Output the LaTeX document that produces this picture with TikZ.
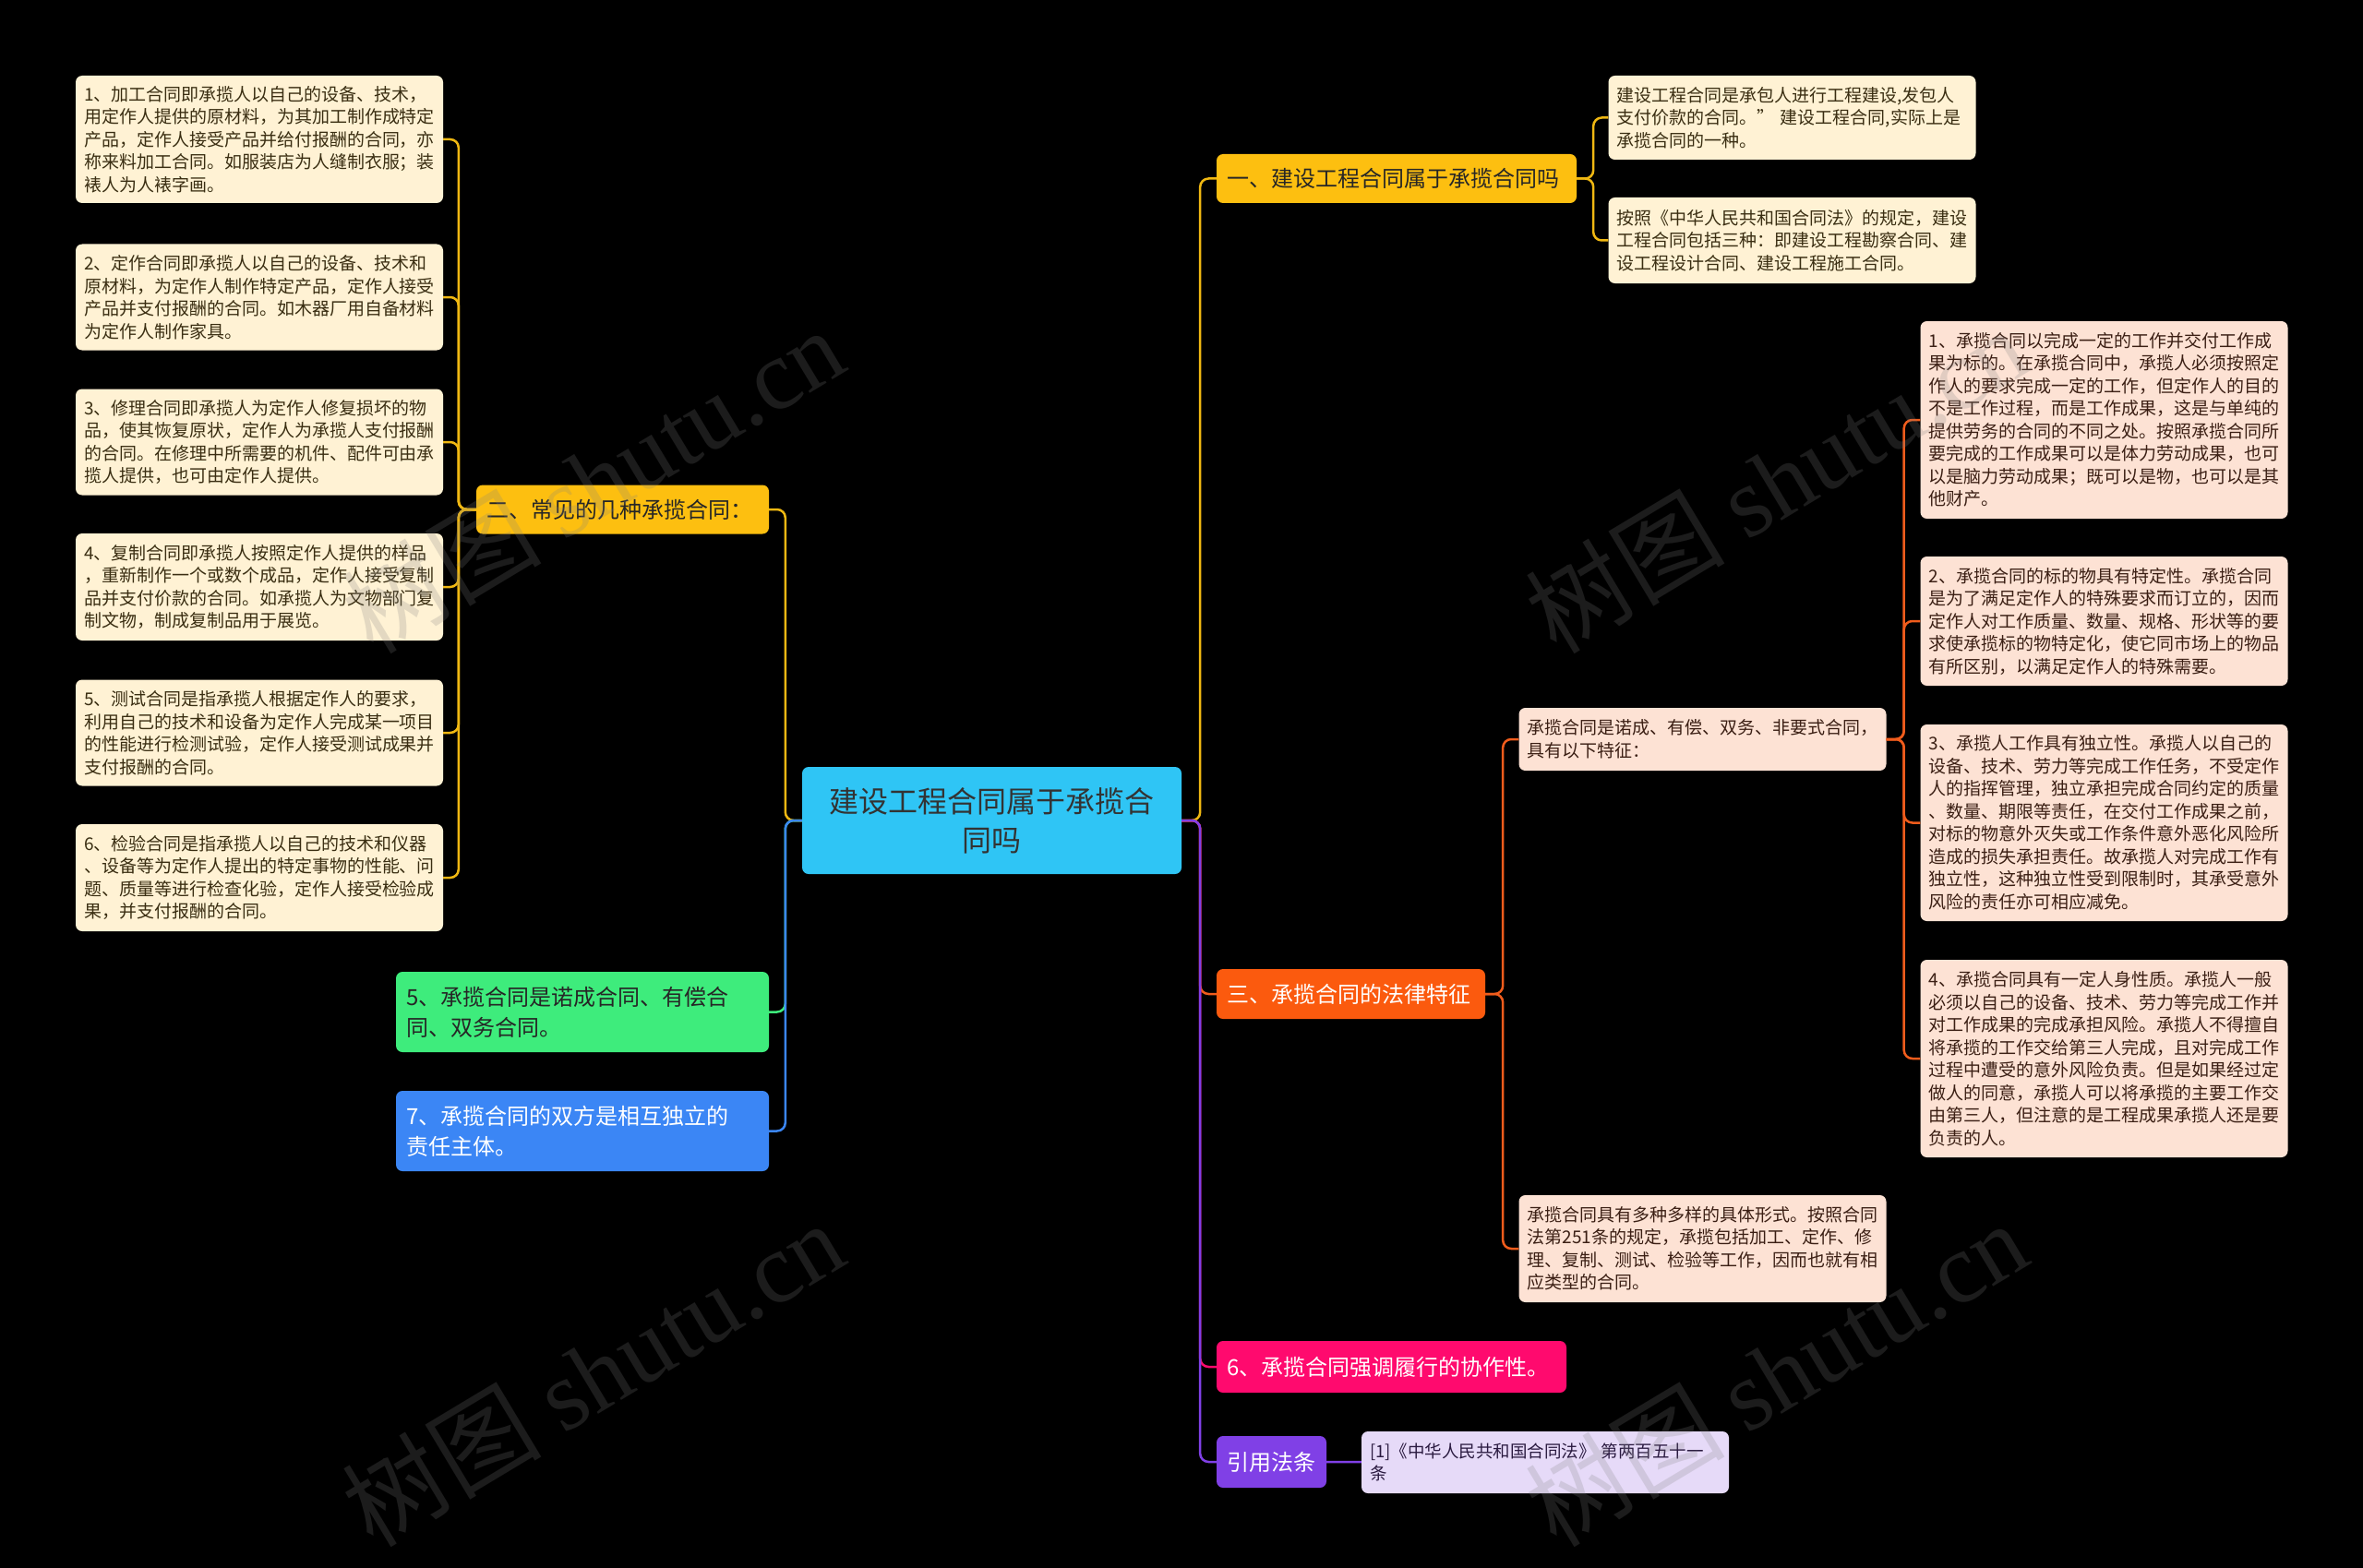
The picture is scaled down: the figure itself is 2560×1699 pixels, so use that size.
\documentclass[tikz,border=0pt]{standalone}
\usepackage{fontspec}
\setmainfont{Noto Sans CJK SC}
\newfontfamily\wmfont{Liberation Serif}
\usetikzlibrary{positioning}

\definecolor{rootc}{HTML}{2FC5F5}
\definecolor{yelc}{HTML}{FDBF10}
\definecolor{yline}{HTML}{F0B812}
\definecolor{creamc}{HTML}{FFF2D4}
\definecolor{creamt}{HTML}{3A2E12}
\definecolor{greenc}{HTML}{3EEC7C}
\definecolor{bluec}{HTML}{3B86F5}
\definecolor{orangec}{HTML}{FB5A0E}
\definecolor{oline}{HTML}{F05C1C}
\definecolor{peachc}{HTML}{FDE2D4}
\definecolor{peacht}{HTML}{3B1F14}
\definecolor{pinkc}{HTML}{FF0A6E}
\definecolor{purpc}{HTML}{8040E6}
\definecolor{lavc}{HTML}{E6DAF8}
\definecolor{lavt}{HTML}{2A1A40}

\begin{document}
\begin{tikzpicture}[
    x=1pt, y=-1pt,
    box/.style={rounded corners=7pt, inner xsep=11pt, inner ysep=0pt, align=left},
    leafy/.style={box, inner xsep=9pt, fill=creamc, text=creamt, text width=380pt,
      font=\fontsize{19}{24.5}\selectfont},
    leafo/.style={box, inner xsep=9pt, fill=peachc, text=peacht, text width=380pt,
      font=\fontsize{19}{24.5}\selectfont},
    topic/.style={box, font=\fontsize{24}{33}\selectfont, minimum height=#1},
    ln/.style={line width=2.5pt, rounded corners=9pt},
    wm/.style={rotate=31, text=gray, opacity=0.22, font=\fontsize{108}{118}\selectfont}
  ]
  \fill[black] (0,0) rectangle (2560,1699);
  \useasboundingbox (0,0) rectangle (2560,1699);

  % centre
  \node[box, fill=rootc, text=black!80, text width=389pt, align=center,
    minimum height=116pt, font=\fontsize{32}{42}\selectfont] (root) at (1074.5,889)
    {建设工程合同属于承揽合\\同吗};

  % left side
  \node[topic=53pt, fill=yelc, text=black!85, text width=295pt] (two) at (674.5,552)
    {二、常见的几种承揽合同：};
  \node[topic=87pt, fill=greenc, text=black!85, text width=382pt] (five) at (631,1096.5)
    {5、承揽合同是诺成合同、有偿合\\同、双务合同。};
  \node[topic=87pt, fill=bluec, text=white, text width=382pt] (seven) at (631,1225.5)
    {7、承揽合同的双方是相互独立的\\责任主体。};

  \node[leafy, minimum height=138pt] (k1) at (281,151)
    {1、加工合同即承揽人以自己的设备、技术，\\用定作人提供的原材料，为其加工制作成特定\\产品，定作人接受产品并给付报酬的合同，亦\\称来料加工合同。如服装店为人缝制衣服；装\\裱人为人裱字画。};
  \node[leafy, minimum height=115pt] (k2) at (281,322)
    {2、定作合同即承揽人以自己的设备、技术和\\原材料，为定作人制作特定产品，定作人接受\\产品并支付报酬的合同。如木器厂用自备材料\\为定作人制作家具。};
  \node[leafy, minimum height=115pt] (k3) at (281,479)
    {3、修理合同即承揽人为定作人修复损坏的物\\品，使其恢复原状，定作人为承揽人支付报酬\\的合同。在修理中所需要的机件、配件可由承\\揽人提供，也可由定作人提供。};
  \node[leafy, minimum height=116pt] (k4) at (281,636)
    {4、复制合同即承揽人按照定作人提供的样品\\，重新制作一个或数个成品，定作人接受复制\\品并支付价款的合同。如承揽人为文物部门复\\制文物，制成复制品用于展览。};
  \node[leafy, minimum height=115pt] (k5) at (281,794)
    {5、测试合同是指承揽人根据定作人的要求，\\利用自己的技术和设备为定作人完成某一项目\\的性能进行检测试验，定作人接受测试成果并\\支付报酬的合同。};
  \node[leafy, minimum height=116pt] (k6) at (281,951)
    {6、检验合同是指承揽人以自己的技术和仪器\\、设备等为定作人提出的特定事物的性能、问\\题、质量等进行检查化验，定作人接受检验成\\果，并支付报酬的合同。};

  % right side
  \node[topic=53pt, fill=yelc, text=black!85, text width=368pt] (one) at (1513,193.5)
    {一、建设工程合同属于承揽合同吗};
  \node[topic=54pt, fill=orangec, text=white, text width=269pt] (three) at (1463.5,1077)
    {三、承揽合同的法律特征};
  \node[topic=56pt, fill=pinkc, text=white, text width=357pt] (six) at (1507.5,1481)
    {6、承揽合同强调履行的协作性。};
  \node[topic=56pt, fill=purpc, text=white, text width=97pt] (cite) at (1377.5,1584)
    {引用法条};

  \node[leafy, minimum height=91pt] (ya) at (1941.5,127.5)
    {建设工程合同是承包人进行工程建设,发包人\\支付价款的合同。” 建设工程合同,实际上是\\承揽合同的一种。};
  \node[leafy, minimum height=93pt] (yb) at (1941.5,260.5)
    {按照《中华人民共和国合同法》的规定，建设\\工程合同包括三种：即建设工程勘察合同、建\\设工程设计合同、建设工程施工合同。};

  \node[leafo, minimum height=68pt] (fa) at (1844.5,801)
    {承揽合同是诺成、有偿、双务、非要式合同，\\具有以下特征：};
  \node[leafo, minimum height=116pt] (fb) at (1844.5,1353)
    {承揽合同具有多种多样的具体形式。按照合同\\法第251条的规定，承揽包括加工、定作、修\\理、复制、测试、检验等工作，因而也就有相\\应类型的合同。};

  \node[leafo, minimum height=214pt] (ta) at (2279.5,455)
    {1、承揽合同以完成一定的工作并交付工作成\\果为标的。在承揽合同中，承揽人必须按照定\\作人的要求完成一定的工作，但定作人的目的\\不是工作过程，而是工作成果，这是与单纯的\\提供劳务的合同的不同之处。按照承揽合同所\\要完成的工作成果可以是体力劳动成果，也可\\以是脑力劳动成果；既可以是物，也可以是其\\他财产。};
  \node[leafo, minimum height=140pt] (tb) at (2279.5,673)
    {2、承揽合同的标的物具有特定性。承揽合同\\是为了满足定作人的特殊要求而订立的，因而\\定作人对工作质量、数量、规格、形状等的要\\求使承揽标的物特定化，使它同市场上的物品\\有所区别，以满足定作人的特殊需要。};
  \node[leafo, minimum height=213pt] (tc) at (2279.5,891.5)
    {3、承揽人工作具有独立性。承揽人以自己的\\设备、技术、劳力等完成工作任务，不受定作\\人的指挥管理，独立承担完成合同约定的质量\\、数量、期限等责任，在交付工作成果之前，\\对标的物意外灭失或工作条件意外恶化风险所\\造成的损失承担责任。故承揽人对完成工作有\\独立性，这种独立性受到限制时，其承受意外\\风险的责任亦可相应减免。};
  \node[leafo, minimum height=214pt] (td) at (2279.5,1147)
    {4、承揽合同具有一定人身性质。承揽人一般\\必须以自己的设备、技术、劳力等完成工作并\\对工作成果的完成承担风险。承揽人不得擅自\\将承揽的工作交给第三人完成，且对完成工作\\过程中遭受的意外风险负责。但是如果经过定\\做人的同意，承揽人可以将承揽的主要工作交\\由第三人，但注意的是工程成果承揽人还是要\\负责的人。};

  \node[box, inner xsep=9pt, fill=lavc, text=lavt, text width=380pt, minimum height=67pt,
    font=\fontsize{18.5}{24}\selectfont] (cref) at (1674,1584.5)
    {[1]《中华人民共和国合同法》 第两百五十一\\条};

  % connectors
  \draw[ln, yline] (root.west) -- ++(-18,0) |- (two.east);
  \draw[ln, greenc] (root.west) -- ++(-18,0) |- (five.east);
  \draw[ln, bluec] (root.west) -- ++(-18,0) |- (seven.east);
  \foreach \k in {k1,k2,k3,k4,k5,k6}
    \draw[ln, yline] (two.west) -- ++(-19,0) |- (\k.east);

  \draw[ln, yline] (root.east) -- ++(20,0) |- (one.west);
  \draw[ln, oline] (root.east) -- ++(20,0) |- (three.west);
  \draw[ln, pinkc] (root.east) -- ++(20,0) |- (six.west);
  \draw[ln, purpc] (root.east) -- ++(20,0) |- (cite.west);
  \foreach \k in {ya,yb}
    \draw[ln, yline] (one.east) -- ++(18,0) |- (\k.west);
  \foreach \k in {fa,fb}
    \draw[ln, oline] (three.east) -- ++(19,0) |- (\k.west);
  \foreach \k in {ta,tb,tc,td}
    \draw[ln, oline] (fa.east) -- ++(19,0) |- (\k.west);
  \draw[ln, purpc] (cite) -- (cref);

  % watermarks
  \node[wm] (w1) at (642,520) {树图 {\wmfont shutu.cn}};
  \node[wm] (w2) at (1924,520) {树图 {\wmfont shutu.cn}};
  \node[wm] (w3) at (642,1488) {树图 {\wmfont shutu.cn}};
  \node[wm] (w4) at (1924,1488) {树图 {\wmfont shutu.cn}};
\end{tikzpicture}
\end{document}
